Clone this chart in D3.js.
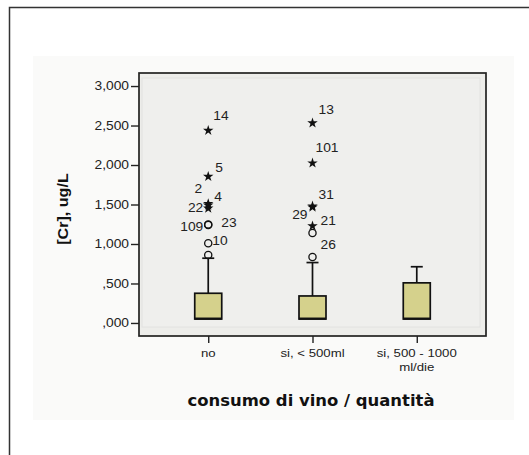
<!DOCTYPE html>
<html><head><meta charset="utf-8">
<script src="https://cdn.jsdelivr.net/npm/d3@7"></script>
<style>html,body{margin:0;padding:0;background:#fff;} svg{display:block}</style>
</head><body>
<svg id="chart" width="529" height="455"></svg>
<script>
// Box plot summary per category
const categories = ["no", "si, < 500ml", "si, 500 - 1000 ml/die"];
const categoryLabelLines = [["no"], ["si, < 500ml"], ["si, 500 - 1000", "ml/die"]];
const whiskerLow = [50, 50, 50];
const q1 = [50, 50, 50];
const median = [55, 55, 55];
const q3 = [376, 342, 508];
const whiskerHigh = [820, 765, 712];

// Outlying cases: group index, value, case number, kind ("o" outlier, "*" extreme)
const outlierGroup = [0, 0, 0, 0, 0, 0, 0, 0, 0, 1, 1, 1, 1, 1, 1, 1];
const outlierValue = [862, 1010, 1242, 1246, 1452, 1490, 1510, 1854, 2437, 836, 1139, 1228, 1465, 1480, 2024, 2531];
const outlierId = ["", "10", "109", "23", "22", "4", "2", "5", "14", "", "26", "21", "29", "31", "101", "13"];
const outlierKind = ["o", "o", "o", "o", "*", "*", "*", "*", "*", "o", "o", "*", "*", "*", "*", "*"];

const yTicks = [0, 500, 1000, 1500, 2000, 2500, 3000];
const yTickLabels = [",000", ",500", "1,000", "1,500", "2,000", "2,500", "3,000"];

const yTitle = "[Cr], ug/L";
const xTitle = "consumo di vino / quantità";

// ---- layout ----
const plot = {left: 139, top: 73, right: 486, bottom: 336};
const svg = d3.select("#chart");
const stretch = 1.15; // horizontally widened label lettering
const labelFont = "Liberation Sans, Arial, sans-serif";

// case-label placement around each marker: [dx, dy, anchor]
const labelPlace = {
  "10": [4, -2, "start"], "109": [-5, 2, "end"], "23": [13, -2, "start"], "22": [-5, 0, "end"],
  "4": [6, -8, "start"], "2": [-6, -15, "end"], "5": [7, -9, "start"], "14": [5, -15, "start"],
  "26": [8, 12, "start"], "21": [8, -5, "start"], "29": [-5, 8, "end"], "31": [6, -11, "start"],
  "101": [3, -15, "start"], "13": [6, -13, "start"]
};

const x = d3.scalePoint().domain(categories).range([plot.left, plot.right]).padding(0.664);
const y = d3.scaleLinear().domain([-165, 3165]).range([plot.bottom, plot.top]);

// outer frame and backdrop
svg.append("rect").attr("x", 33).attr("y", 56).attr("width", 481).attr("height", 364).attr("fill", "#fafaf9");
svg.append("path").attr("d", "M9.5,460 V7.5 H540").attr("fill", "none").attr("stroke", "#333").attr("stroke-width", 1.5);

// plot area
svg.append("rect").attr("x", plot.left).attr("y", plot.top)
  .attr("width", plot.right - plot.left).attr("height", plot.bottom - plot.top)
  .attr("fill", "#ededea");
svg.append("rect").attr("x", plot.left + 3).attr("y", plot.top + 5)
  .attr("width", plot.right - plot.left - 9).attr("height", plot.bottom - plot.top - 14)
  .attr("fill", "#efefed").attr("stroke", "#e2e2e0").attr("stroke-width", 1);

function widen(sel) {
  sel.each(function () {
    const t = d3.select(this);
    const xv = +t.attr("x") || 0;
    t.attr("x", xv / stretch).attr("transform", `scale(${stretch},1)`);
  });
}

// y axis
const yAxis = svg.append("g").attr("transform", `translate(${plot.left},0)`)
  .call(d3.axisLeft(y).tickValues(yTicks).tickFormat((d, i) => yTickLabels[i])
    .tickSize(8).tickPadding(2).tickSizeOuter(0));
yAxis.select(".domain").remove();
yAxis.selectAll("line").attr("stroke", "#222").attr("stroke-width", 1.4);
yAxis.selectAll("text").attr("font-family", labelFont)
  .attr("font-size", 12).attr("fill", "#222").call(widen);

// x axis
const xAxis = svg.append("g").attr("transform", `translate(0,${plot.bottom})`)
  .call(d3.axisBottom(x).tickSize(7).tickFormat("").tickSizeOuter(0));
xAxis.select(".domain").remove();
xAxis.selectAll("line").attr("stroke", "#222").attr("stroke-width", 1.4);

categories.forEach((c, i) => {
  categoryLabelLines[i].forEach((line, j) => {
    svg.append("text")
      .attr("transform", `translate(${x(c)},${357 + j * 14}) scale(${stretch},1)`)
      .attr("text-anchor", "middle")
      .attr("font-family", labelFont)
      .attr("font-size", 11.5).attr("fill", "#222")
      .text(line);
  });
});

// boxes
const boxW = 27, capW = 12;
const g = svg.append("g");
categories.forEach((c, i) => {
  const cx = x(c);
  g.append("line").attr("x1", cx).attr("x2", cx).attr("y1", y(q3[i])).attr("y2", y(whiskerHigh[i]))
    .attr("stroke", "#111").attr("stroke-width", 1.7);
  g.append("line").attr("x1", cx - capW / 2).attr("x2", cx + capW / 2)
    .attr("y1", y(whiskerHigh[i])).attr("y2", y(whiskerHigh[i]))
    .attr("stroke", "#111").attr("stroke-width", 1.7);
  g.append("line").attr("x1", cx).attr("x2", cx).attr("y1", y(q1[i])).attr("y2", y(whiskerLow[i]))
    .attr("stroke", "#111").attr("stroke-width", 1.7);
  g.append("rect").attr("x", cx - boxW / 2).attr("y", y(q3[i]))
    .attr("width", boxW).attr("height", y(q1[i]) - y(q3[i]))
    .attr("fill", "#d5d18c").attr("stroke", "#111").attr("stroke-width", 1.7);
  g.append("line").attr("x1", cx - boxW / 2).attr("x2", cx + boxW / 2)
    .attr("y1", y(median[i])).attr("y2", y(median[i]))
    .attr("stroke", "#111").attr("stroke-width", 2.2);
});

// outliers and extremes
const star = d3.symbol().type(d3.symbolStar).size(34);
outlierValue.forEach((v, k) => {
  const cx = x(categories[outlierGroup[k]]);
  const cy = y(v);
  if (outlierKind[k] === "o") {
    g.append("circle").attr("cx", cx).attr("cy", cy).attr("r", 3.6)
      .attr("fill", "none").attr("stroke", "#111").attr("stroke-width", 1.3);
  } else {
    g.append("path").attr("d", star()).attr("transform", `translate(${cx},${cy})`).attr("fill", "#111");
  }
  const id = outlierId[k];
  if (id && labelPlace[id]) {
    const [dx, dy, anchor] = labelPlace[id];
    g.append("text")
      .attr("transform", `translate(${cx + dx},${cy + dy}) scale(${stretch},1)`)
      .attr("text-anchor", anchor).attr("dominant-baseline", "central")
      .attr("font-family", labelFont)
      .attr("font-size", 12).attr("fill", "#222")
      .text(id);
  }
});

// frame on top
svg.append("rect").attr("x", plot.left).attr("y", plot.top)
  .attr("width", plot.right - plot.left).attr("height", plot.bottom - plot.top)
  .attr("fill", "none").attr("stroke", "#222").attr("stroke-width", 1.7);

// axis titles
svg.append("text")
  .attr("transform", `translate(68,209) rotate(-90) scale(${stretch},1)`)
  .attr("text-anchor", "middle")
  .attr("font-family", labelFont).attr("font-weight", "bold")
  .attr("font-size", 14).attr("fill", "#111")
  .text(yTitle);

svg.append("text")
  .attr("x", 311).attr("y", 406).attr("text-anchor", "middle")
  .attr("font-family", "DejaVu Sans, Verdana, sans-serif").attr("font-weight", "bold")
  .attr("font-size", 15).attr("fill", "#111")
  .attr("textLength", 247).attr("lengthAdjust", "spacingAndGlyphs")
  .text(xTitle);
</script>
</body></html>
